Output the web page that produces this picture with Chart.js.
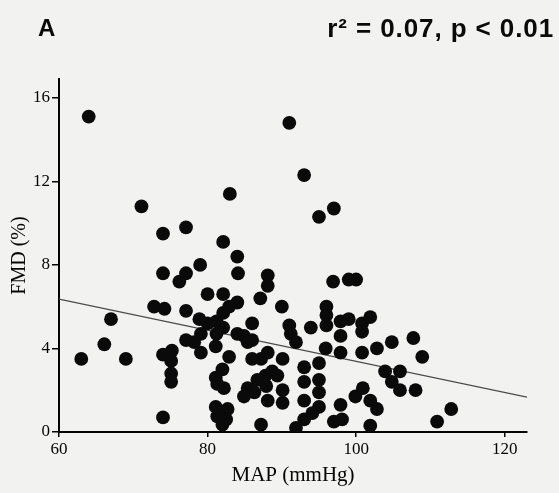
<!DOCTYPE html>
<html>
<head>
<meta charset="utf-8">
<script src="https://cdn.jsdelivr.net/npm/chart.js@4/dist/chart.umd.min.js"></script>
<style>
  html, body { margin: 0; padding: 0; background: #f2f2f1; }
  #wrap { width: 559px; height: 493px; }
</style>
</head>
<body>
<div id="wrap"><canvas id="c" width="559" height="493"></canvas></div>
<script>
// Mean arterial pressure (mmHg) per subject
const mapX = [
  64.0, 71.1, 74.0, 77.1, 83.0, 82.1, 84.0, 79.0, 74.0, 77.1,
  76.2, 84.1, 88.1, 88.1, 87.1, 90.0, 80.0, 82.1, 72.8, 74.2,
  77.1, 84.0, 82.9, 82.1, 81.2, 91.0, 93.0, 97.0, 95.0, 96.9,
  99.0, 100.0, 96.0, 96.0, 96.0, 67.0, 66.1, 63.0, 69.0, 74.0,
  75.2, 75.1, 75.1, 75.1, 74.0, 77.1, 78.2, 79.1, 79.1, 78.9,
  80.0, 82.1, 81.2, 81.1, 82.9, 82.0, 81.1, 81.3, 82.2, 81.1,
  81.3, 82.7, 82.5, 82.0, 84.0, 84.9, 86.0, 85.4, 86.0, 86.0,
  87.2, 88.1, 90.1, 88.7, 89.4, 87.8, 86.7, 87.9, 85.4, 84.9,
  86.3, 88.1, 90.1, 90.1, 87.2, 91.0, 91.2, 91.9, 93.9, 97.9,
  99.0, 97.9, 100.8, 101.9, 100.8, 95.9, 97.9, 100.8, 102.8, 104.8,
  107.7, 108.9, 93.0, 95.0, 93.0, 95.0, 95.0, 93.0, 95.0, 94.1,
  93.0, 91.9, 97.9, 97.0, 98.1, 99.9, 100.9, 101.9, 102.8, 101.9,
  103.9, 105.9, 104.8, 105.9, 108.0, 110.9, 112.8
];
// Flow-mediated dilation (%) for the same subjects
const fmdY = [
  15.1, 10.8, 9.5, 9.8, 11.4, 9.1, 8.4, 8.0, 7.6, 7.6,
  7.2, 7.6, 7.5, 7.0, 6.4, 6.0, 6.6, 6.6, 6.0, 5.9,
  5.8, 6.2, 6.0, 5.7, 5.3, 14.8, 12.3, 10.7, 10.3, 7.2,
  7.3, 7.3, 6.0, 5.6, 5.1, 5.4, 4.2, 3.5, 3.5, 3.7,
  3.9, 3.4, 2.8, 2.4, 0.7, 4.4, 4.3, 4.7, 3.8, 5.4,
  5.2, 5.0, 4.7, 4.1, 3.6, 3.0, 2.6, 2.3, 2.1, 1.2,
  0.75, 1.1, 0.6, 0.35, 4.7, 4.6, 4.4, 4.3, 5.2, 3.5,
  3.5, 3.8, 3.5, 2.9, 2.7, 2.7, 2.5, 2.2, 2.1, 1.7,
  1.9, 1.5, 2.0, 1.4, 0.35, 5.1, 4.7, 4.3, 5.0, 5.3,
  5.4, 4.6, 5.2, 5.5, 4.8, 4.0, 3.8, 3.8, 4.0, 4.3,
  4.5, 3.6, 3.1, 3.3, 2.4, 2.5, 1.9, 1.5, 1.2, 0.9,
  0.6, 0.2, 1.3, 0.5, 0.6, 1.7, 2.1, 1.5, 1.1, 0.3,
  2.9, 2.9, 2.4, 2.0, 2.0, 0.5, 1.1
];
// Least-squares fit, evaluated at the ends of the x range
const fitX = [60, 123];
const fitY = [6.36, 1.67];

const xTicks = [60, 80, 100, 120];
const yTicks = [0, 4, 8, 12, 16];

const panelLabel = 'A';
const statsLabel = 'r\u00B2 = 0.07, p < 0.01';

const scatterPoints = mapX.map((x, i) => ({ x: x, y: fmdY[i] }));
const fitPoints = fitX.map((x, i) => ({ x: x, y: fitY[i] }));

const serif = '"Liberation Serif", "Times New Roman", serif';
const ink = '#050505';

const backdrop = {
  id: 'backdrop',
  beforeDraw(chart) {
    const ctx = chart.ctx;
    ctx.save();
    ctx.fillStyle = '#f2f2f1';
    ctx.fillRect(0, 0, chart.width, chart.height);
    ctx.restore();
  }
};

const headings = {
  id: 'headings',
  afterDraw(chart) {
    const ctx = chart.ctx;
    ctx.save();
    ctx.fillStyle = '#0a0a0a';
    ctx.textBaseline = 'alphabetic';
    ctx.font = 'bold 24px "Liberation Sans", Arial, sans-serif';
    ctx.textAlign = 'left';
    ctx.fillText(panelLabel, 38, 36);
    ctx.font = 'bold 26px "Liberation Sans", Arial, sans-serif';
    ctx.letterSpacing = '0.9px';
    ctx.textAlign = 'right';
    ctx.fillText(statsLabel, 554, 37);
    ctx.restore();
  }
};

new Chart(document.getElementById('c'), {
  type: 'scatter',
  data: {
    datasets: [
      {
        label: 'FMD',
        data: scatterPoints,
        backgroundColor: '#0a0a0a',
        borderColor: '#0a0a0a',
        borderWidth: 0,
        pointRadius: 6.9,
        pointHoverRadius: 6.9,
        order: 1
      },
      {
        label: 'fit',
        data: fitPoints,
        showLine: true,
        borderColor: '#4a4a4a',
        borderWidth: 1.3,
        pointRadius: 0,
        fill: false,
        order: 2
      }
    ]
  },
  options: {
    responsive: false,
    animation: false,
    devicePixelRatio: 1,
    layout: { padding: { top: 79, right: 32, left: 0, bottom: 0 } },
    plugins: {
      legend: { display: false },
      tooltip: { enabled: false },
      title: { display: false }
    },
    scales: {
      x: {
        type: 'linear',
        min: 60,
        max: 123,
        afterBuildTicks(scale) { scale.ticks = xTicks.map(v => ({ value: v })); },
        afterFit(scale) { scale.height = 61; },
        border: { display: true, color: ink, width: 2 },
        grid: { display: true, drawOnChartArea: false, drawTicks: true, tickLength: 5, color: ink, lineWidth: 1.5 },
        ticks: {
          padding: 2,
          color: ink,
          font: { family: serif, size: 17, lineHeight: 1.2 },
          maxRotation: 0
        },
        title: {
          display: true,
          text: 'MAP (mmHg)',
          color: ink,
          font: { family: serif, size: 21, lineHeight: 1.2 },
          padding: { top: 0, bottom: 5 }
        }
      },
      y: {
        type: 'linear',
        min: 0,
        max: 16.9,
        afterBuildTicks(scale) { scale.ticks = yTicks.map(v => ({ value: v })); },
        afterFit(scale) { scale.width = 59; },
        border: { display: true, color: ink, width: 2 },
        grid: { display: true, drawOnChartArea: false, drawTicks: true, tickLength: 7, color: ink, lineWidth: 1.5 },
        ticks: {
          padding: 2,
          color: ink,
          font: { family: serif, size: 17, lineHeight: 1.2 }
        },
        title: {
          display: true,
          text: 'FMD (%)',
          color: ink,
          font: { family: serif, size: 20, lineHeight: 1.2 },
          padding: { top: 8, bottom: 0 }
        }
      }
    }
  },
  plugins: [backdrop, headings]
});
</script>
</body>
</html>
